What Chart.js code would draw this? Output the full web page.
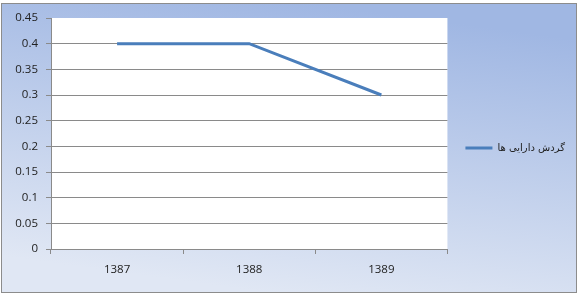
<!DOCTYPE html>
<html>
<head>
<meta charset="utf-8">
<script src="https://cdn.jsdelivr.net/npm/chart.js@4/dist/chart.umd.min.js"></script>
<style>
  html, body { margin: 0; padding: 0; background: #fff; }
  #wrap { width: 579px; height: 300px; }
</style>
</head>
<body>
<div id="wrap"><canvas id="turnoverChart" width="579" height="300"></canvas></div>
<script>
// data
const years = ['1387', '1388', '1389'];
const assetTurnover = [0.4, 0.4, 0.3];
const seriesName = 'گردش دارایی ها';
const yTicks = [0, 0.05, 0.1, 0.15, 0.2, 0.25, 0.3, 0.35, 0.4, 0.45];

const lineBlue = '#4a7ebb';
const gridGray = '#8a8a8a';
const tickFont = { family: 'Open Sans', size: 11.5 };

// Excel-style frame: blue gradient panel + white plot area
const frameBackground = {
    id: 'frameBackground',
    beforeDraw(chart) {
        const ctx = chart.ctx;
        const area = chart.chartArea;
        ctx.save();
        const g = ctx.createLinearGradient(310, 3, 270, 293);
        g.addColorStop(0, '#a0b7e3');
        g.addColorStop(1, '#e0e7f4');
        ctx.fillStyle = g;
        ctx.fillRect(1, 3, 576, 290);
        ctx.strokeStyle = '#8c8c8c';
        ctx.lineWidth = 1;
        ctx.strokeRect(1.5, 3.5, 575, 289);
        ctx.fillStyle = '#ffffff';
        ctx.fillRect(area.left, area.top, area.right - area.left, area.bottom - area.top);
        ctx.restore();
    }
};

const ctxLine = document.getElementById('turnoverChart').getContext('2d');
const turnoverChart = new Chart(ctxLine, {
    type: 'line',
    data: {
        labels: years,
        datasets: [{
            label: seriesName,
            data: assetTurnover,
            borderColor: lineBlue,
            backgroundColor: lineBlue,
            borderWidth: 3,
            pointRadius: 0,
            pointHoverRadius: 0,
            tension: 0,
            fill: false
        }]
    },
    options: {
        responsive: false,
        animation: false,
        layout: {
            padding: { left: 0, top: 18, right: 4, bottom: 22 }
        },
        scales: {
            x: {
                offset: true,
                grid: {
                    offset: true,
                    drawOnChartArea: false,
                    drawTicks: true,
                    tickLength: 5,
                    tickColor: gridGray
                },
                border: { display: true, color: gridGray },
                ticks: {
                    color: '#222',
                    font: tickFont,
                    padding: 9
                },
                afterFit(scale) { scale.height = 29; }
            },
            y: {
                min: 0,
                max: 0.45,
                afterBuildTicks(scale) {
                    scale.ticks = yTicks.map(v => ({ value: v }));
                },
                grid: {
                    color: (c) => (c.tick && c.tick.value === 0.45) ? 'rgba(0,0,0,0)' : gridGray,
                    tickColor: gridGray,
                    tickLength: 5
                },
                border: { display: true, color: gridGray },
                ticks: {
                    color: '#222',
                    font: tickFont,
                    padding: 8,
                    callback: (v) => String(Math.round(v * 100) / 100)
                },
                afterFit(scale) { scale.width = 51; }
            }
        },
        plugins: {
            legend: {
                position: 'right',
                labels: {
                    usePointStyle: true,
                    pointStyle: 'line',
                    pointStyleWidth: 27,
                    color: '#222',
                    font: { family: 'DejaVu Sans', size: 10 },
                    padding: 18
                }
            },
            tooltip: { enabled: false }
        }
    },
    plugins: [frameBackground]
});
</script>
</body>
</html>
